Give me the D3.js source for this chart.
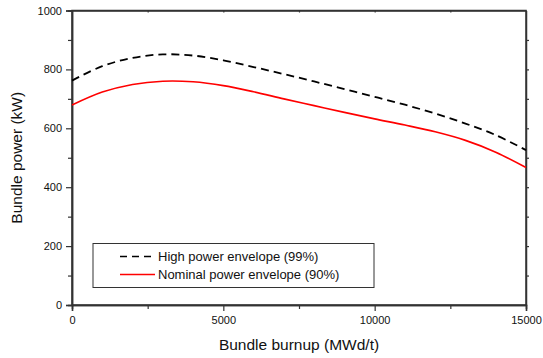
<!DOCTYPE html>
<html>
<head>
<meta charset="utf-8">
<script src="https://cdn.jsdelivr.net/npm/d3@7"></script>
<style>
  body { margin: 0; background: #fff; }
  text { font-family: "Liberation Sans", Arial, sans-serif; }
</style>
</head>
<body>
<div id="chart"></div>
<script>
const burnup = [0, 1000, 2000, 3000, 4000, 5000, 6000, 7000, 8000, 9000, 10000, 11000, 12000, 13000, 14000, 15000]
const highPower = [762, 811, 839, 851, 847, 831, 808, 784, 759, 733, 707, 680, 650, 616, 577, 526]
const nominalPower = [679, 723, 749, 760, 758, 745, 724, 700, 677, 654, 632, 611, 588, 559, 519, 467]
const xTicks = [0, 5000, 10000, 15000]
const yTicks = [0, 200, 400, 600, 800, 1000]
const seriesNames = ["High power envelope (99%)", "Nominal power envelope (90%)"]

const margin = {top: 10.5, right: 17, bottom: 53, left: 72},
  width = 543 - margin.left - margin.right,
  height = 358 - margin.top - margin.bottom;

const x = d3.scaleLinear().domain([0, 15000]).range([0, width])
const y = d3.scaleLinear().domain([0, 1000]).range([height, 0])

const svg = d3.select("#chart")
  .append("svg")
    .attr("width", 543)
    .attr("height", 358)
  .append("g")
    .attr("transform", "translate(" + margin.left + "," + margin.top + ")");

const axisColor = "#333"

// frame
svg.append("rect")
  .attr("width", width)
  .attr("height", height)
  .attr("fill", "none")
  .attr("stroke", axisColor)
  .attr("stroke-width", 1.5)

//x axis
const xAxis = svg.append("g")
  .attr("transform", "translate(0," + height + ")")
  .call(d3.axisBottom(x).tickValues(xTicks).tickSize(6).tickPadding(5).tickFormat(d3.format("d")))
xAxis.append("g")
  .call(d3.axisBottom(x).tickValues([2500, 7500, 12500]).tickSize(4).tickFormat(""))

//y axis
const yAxis = svg.append("g")
  .call(d3.axisLeft(y).tickValues(yTicks).tickSize(6).tickPadding(4).tickFormat(d3.format("d")))
yAxis.append("g")
  .call(d3.axisLeft(y).tickValues([100, 300, 500, 700, 900]).tickSize(4).tickFormat(""))

// top & right small ticks
svg.append("g")
  .call(d3.axisTop(x).tickValues([2500, 5000, 7500, 10000, 12500]).tickSizeInner(-2).tickSizeOuter(0).tickFormat(""))
svg.append("g")
  .attr("transform", "translate(" + width + ",0)")
  .call(d3.axisRight(y).tickValues([100, 200, 300, 400, 500, 600, 700, 800, 900]).tickSizeInner(3).tickSizeOuter(0).tickFormat(""))

svg.selectAll(".domain").attr("stroke", axisColor).attr("stroke-width", 1.5)
svg.selectAll(".tick line").attr("stroke", axisColor).attr("stroke-width", 1.2)
svg.selectAll(".tick text").attr("font-size", 11).attr("fill", "#111")
  .style("font-family", "'Liberation Sans', Arial, sans-serif")

const line = d3.line()
  .x((d, i) => x(burnup[i]))
  .y(d => y(d))
  .curve(d3.curveCatmullRom)

svg.append("path")
  .datum(highPower)
  .attr("d", line)
  .attr("fill", "none")
  .attr("stroke", "#000")
  .attr("stroke-width", 1.8)
  .attr("stroke-dasharray", "8,5")

svg.append("path")
  .datum(nominalPower)
  .attr("d", line)
  .attr("fill", "none")
  .attr("stroke", "#ff0000")
  .attr("stroke-width", 1.6)

// legend
const legend = svg.append("g")
  .attr("transform", "translate(" + (93 - margin.left) + "," + (243.5 - margin.top) + ")")
legend.append("rect")
  .attr("width", 281)
  .attr("height", 44)
  .attr("fill", "#fff")
  .attr("stroke", axisColor)
  .attr("stroke-width", 1)

const styles = [{c: "#000", dash: "7,5", w: 1.5}, {c: "#ff0000", dash: null, w: 1.5}]
seriesNames.forEach((name, i) => {
  const yy = 13 + i * 18
  legend.append("line")
    .attr("x1", 27).attr("x2", 62)
    .attr("y1", yy).attr("y2", yy)
    .attr("stroke", styles[i].c)
    .attr("stroke-width", styles[i].w)
    .attr("stroke-dasharray", styles[i].dash)
  legend.append("text")
    .attr("x", 65)
    .attr("y", yy + 4.5)
    .attr("font-size", 13)
    .attr("fill", "#111")
    .text(name)
})

// axis titles
svg.append("text")
  .attr("x", width / 2)
  .attr("y", height + 45)
  .attr("text-anchor", "middle")
  .attr("font-size", 15.5)
  .attr("fill", "#111")
  .text("Bundle burnup (MWd/t)")

svg.append("text")
  .attr("transform", "translate(" + (-50) + "," + (height / 2) + ") rotate(-90)")
  .attr("text-anchor", "middle")
  .attr("font-size", 15.5)
  .attr("fill", "#111")
  .text("Bundle power (kW)")
</script>
</body>
</html>
